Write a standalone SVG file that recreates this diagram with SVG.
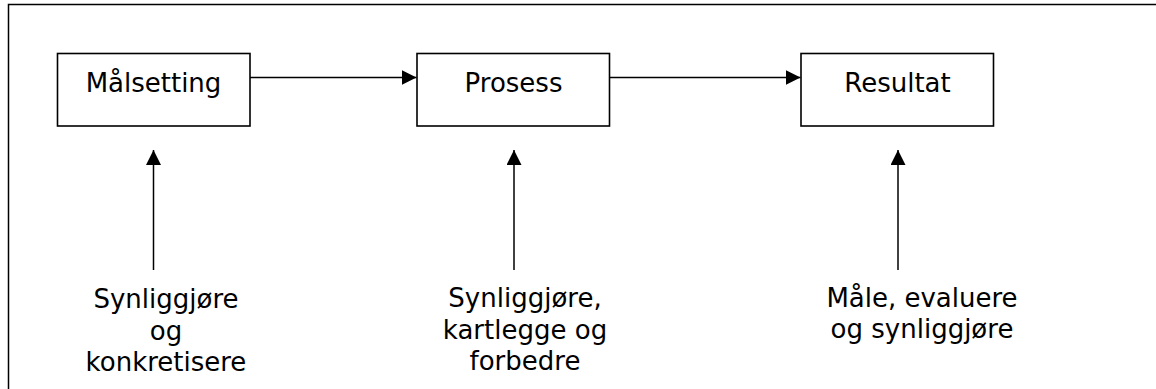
<svg xmlns="http://www.w3.org/2000/svg" width="1156" height="389" viewBox="0 0 1156 389">
<style>
.box{fill:#fff;stroke:#000;stroke-width:1.6}
.lbl{font-family:"DejaVu Sans",Verdana,sans-serif;font-size:26px;fill:#000;text-anchor:middle}
.con{stroke:#000;stroke-width:1.5;fill:none}
</style>
<defs>
<marker id="ah" markerWidth="15" markerHeight="15" refX="15" refY="7.5" orient="auto" markerUnits="userSpaceOnUse">
<path d="M0,0 L15,7.5 L0,15 Z" fill="#000"/>
</marker>
</defs>
<rect x="0" y="0" width="1156" height="389" fill="#fff"/>
<path d="M8.5,395 V4.5 H1160" fill="none" stroke="#000" stroke-width="1.5"/>
<g id="malsetting"><rect class="box" x="57.5" y="53.5" width="192.5" height="72.5"/><text class="lbl" x="153.5" y="92">Målsetting</text></g>
<g id="prosess"><rect class="box" x="417" y="53.5" width="192.5" height="72.5"/><text class="lbl" x="513.5" y="92">Prosess</text></g>
<g id="resultat"><rect class="box" x="801" y="53.5" width="192.5" height="72.5"/><text class="lbl" x="897.5" y="92">Resultat</text></g>
<g id="synliggjore1"><text class="lbl" x="166" y="308"><tspan x="166">Synliggjøre</tspan><tspan x="166" dy="31.7">og</tspan><tspan x="166" dy="31.7">konkretisere</tspan></text></g>
<g id="synliggjore2"><text class="lbl" x="525" y="307"><tspan x="525">Synliggjøre,</tspan><tspan x="525" dy="31.7">kartlegge og</tspan><tspan x="525" dy="31.7">forbedre</tspan></text></g>
<g id="male"><text class="lbl" x="922" y="306.5"><tspan x="922">Måle, evaluere</tspan><tspan x="922" dy="31.5">og synliggjøre</tspan></text></g>
<g id="connectors">
<line class="con" x1="250" y1="77.5" x2="416.5" y2="77.5" marker-end="url(#ah)"/>
<line class="con" x1="610" y1="77.5" x2="800.5" y2="77.5" marker-end="url(#ah)"/>
<line class="con" x1="153.5" y1="270" x2="153.5" y2="150" marker-end="url(#ah)"/>
<line class="con" x1="514" y1="270" x2="514" y2="150" marker-end="url(#ah)"/>
<line class="con" x1="898" y1="270" x2="898" y2="150" marker-end="url(#ah)"/>
</g>
</svg>
